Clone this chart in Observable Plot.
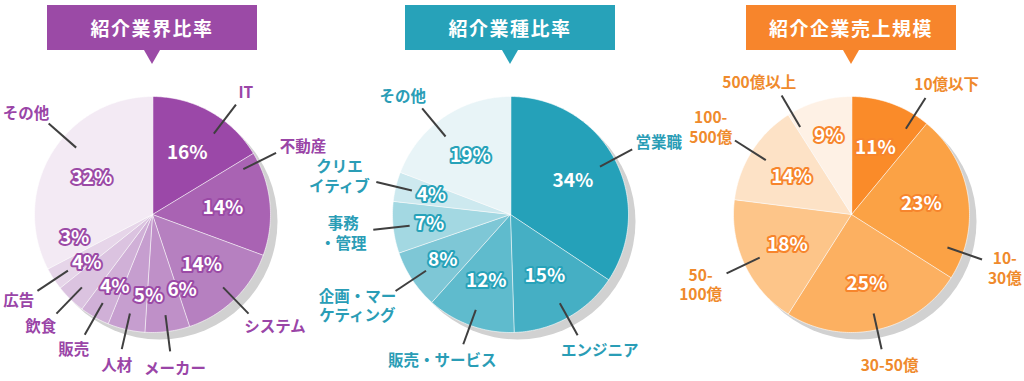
<!DOCTYPE html>
<html lang="ja">
<head>
<meta charset="utf-8">
<script src="https://cdn.jsdelivr.net/npm/d3@7"></script>
<script src="https://cdn.jsdelivr.net/npm/@observablehq/plot@0.6"></script>
<style>
html,body{margin:0;padding:0;background:#fff;}
#chart{position:relative;width:1024px;height:381px;overflow:hidden;font-family:"Noto Sans CJK JP","Noto Sans",sans-serif;}
#banners{position:relative;height:68px;}
.banner{position:absolute;top:5px;height:45px;width:210px;color:#fff;font-weight:700;font-size:19px;letter-spacing:1.5px;line-height:45px;text-align:center;}
.banner::after{content:"";position:absolute;left:50%;top:45px;margin-left:-8px;border-left:8px solid transparent;border-right:8px solid transparent;border-top:14px solid var(--bc);}
svg{display:block}
</style>
</head>
<body>
<div id="chart"><div id="banners"></div></div>
<script>
// ---- data ----
const titles = ["紹介業界比率", "紹介業種比率", "紹介企業売上規模"];

const industryLabels = ["IT", "不動産", "システム", "メーカー", "人材", "販売", "飲食", "広告", "その他"];
const industryValues = [16, 14, 14, 6, 5, 4, 4, 3, 32];

const jobLabels = ["営業職", "エンジニア", "販売・サービス", "企画・マー\nケティング", "事務\n・管理", "クリエ\nイティブ", "その他"];
const jobValues = [34, 15, 12, 8, 7, 4, 19];

const salesLabels = ["10億以下", "10-\n30億", "30-50億", "50-\n100億", "100-\n500億", "500億以上"];
const salesValues = [11, 23, 25, 18, 14, 9];

// ---- styles ----
const industryColors = ["#9b48a8", "#a963b3", "#b680c0", "#bf90c8", "#c69ecf", "#d0b0d7", "#dbc3e0", "#e6d5e9", "#f3eaf4"];
const jobColors = ["#25a1b9", "#45afc4", "#5fbbcd", "#7ec7d6", "#a3d8e2", "#cde9ef", "#e8f4f7"];
const salesColors = ["#fa8b29", "#fba245", "#fcb061", "#fdc589", "#fde2c6", "#fef1e5"];
const bannerColors = ["#9b4aa6", "#27a2b9", "#f7852c"];
const inkColors = ["#9a45a7", "#2a9db6", "#ef8a2c"];

const FONT = '"Noto Sans CJK JP", "Noto Sans", sans-serif';
const FS = 15.5, PFS = 19, GAP = 7;
const W = 1024, TOP = 68, H = 381 - TOP, R = 118;
const centerX = [152, 510, 851], centerY = 214 - TOP;
const deg = Math.PI / 180;

function textW(s, fs) {
  let w = 0;
  for (const ch of s) {
    if (ch === "-") w += 0.4;
    else if (ch === "%") w += 0.9;
    else if (/[\x20-\x7E]/.test(ch)) w += 0.6;
    else w += 1;
  }
  return w * fs;
}
function overlap(a, b, pad) {
  return Math.abs(a.x - b.x) * 2 < a.w + b.w + pad * 2 && Math.abs(a.y - b.y) * 2 < a.h + b.h + pad * 2;
}
function angDiff(a, b) {
  let d = b - a;
  while (d > Math.PI) d -= 2 * Math.PI;
  while (d <= -Math.PI) d += 2 * Math.PI;
  return d;
}

// banners
const bannerBox = document.getElementById("banners");
titles.forEach((t, i) => {
  const d = document.createElement("div");
  d.className = "banner";
  d.textContent = t;
  d.style.left = (centerX[i] - 105) + "px";
  d.style.background = bannerColors[i];
  d.style.setProperty("--bc", bannerColors[i]);
  bannerBox.appendChild(d);
});

const charts = [
  {labels: industryLabels, values: industryValues, colors: industryColors},
  {labels: jobLabels, values: jobValues, colors: jobColors},
  {labels: salesLabels, values: salesValues, colors: salesColors}
];

const slices = [], pcts = [], leaders = [], names = [], shadows = [];
const nameItems = [];

charts.forEach((c, ci) => {
  const cx = centerX[ci], cy = centerY;
  shadows.push({x: cx, y: cy});
  const arcs = d3.pie().sort(null).value(d => d)(c.values);
  const pItems = [];
  arcs.forEach((a, i) => {
    const key = ci + "-" + i, fill = c.colors[i];
    const n = Math.max(2, Math.ceil((a.endAngle - a.startAngle) / deg));
    slices.push({key, x: cx, y: cy, fill});
    for (let k = 0; k <= n; k++) {
      const t = a.startAngle + (a.endAngle - a.startAngle) * k / n;
      slices.push({key, x: cx + R * Math.sin(t), y: cy - R * Math.cos(t), fill});
    }
    const mid = (a.startAngle + a.endAngle) / 2;
    const text = c.values[i] + "%";
    pItems.push({t: mid, r: R * (c.values[i] < 10 ? 0.69 : 0.6), text, w: textW(text, PFS), h: PFS * 1.0, halo: bannerColors[ci]});

    let ang = mid;
    const d = ang > Math.PI ? ang - 2 * Math.PI : ang;
    if (Math.abs(d) < 45 * deg) ang = Math.sign(d) * (Math.abs(d) + 45 * deg) / 2;
    if (ang < 0) ang += 2 * Math.PI;
    const lo = a.startAngle + 2 * deg, hi = a.endAngle - 2 * deg;
    ang = Math.min(hi, Math.max(lo, ang));
    const lines = c.labels[i].split("\n");
    const w = d3.max(lines, l => textW(l, FS)), h = lines.length * FS * 1.2;
    nameItems.push({cx, cy, lo, hi, ang, w, h, text: c.labels[i], ink: inkColors[ci]});
  });

  // spread percentage labels so they do not collide
  const pos = (p) => ({x: cx + p.r * Math.sin(p.t), y: cy - p.r * Math.cos(p.t), w: p.w, h: p.h});
  for (let it = 0; it < 3000; it++) {
    let moved = false;
    for (let i = 0; i < pItems.length; i++) for (let j = i + 1; j < pItems.length; j++) {
      const A = pItems[i], B = pItems[j];
      if (overlap(pos(A), pos(B), 5)) {
        const s = angDiff(A.t, B.t) > 0 ? 1 : -1;
        A.t -= s * 0.2 * deg; B.t += s * 0.2 * deg;
        moved = true;
      }
    }
    if (!moved) break;
  }
  pItems.forEach(p => { const q = pos(p); pcts.push({x: q.x, y: q.y, text: p.text, halo: p.halo}); });
});

// name label placement: leader along an angle, label box outside the line end
function place(o) {
  const ux = Math.sin(o.ang), uy = -Math.cos(o.ang);
  const ex = o.cx + R * 1.17 * ux, ey = o.cy + R * 1.17 * uy;
  o.ux = ux; o.uy = uy; o.ex = ex; o.ey = ey;
  o.x = ex + GAP * ux + ux * o.w / 2;
  o.y = ey + GAP * uy + uy * o.h / 2;
}
function clipped(o) {
  return o.x - o.w / 2 < 2 || o.x + o.w / 2 > W - 2 || o.y - o.h / 2 < 1 || o.y + o.h / 2 > H - 1;
}
function turn(o, step) {
  const na = Math.min(o.hi, Math.max(o.lo, o.ang + step));
  if (na === o.ang) return false;
  o.ang = na; place(o); return true;
}
function towardVertical(o) {
  const up = Math.cos(o.ang) > 0, right = Math.sin(o.ang) > 0;
  return (up ? (right ? -1 : 1) : (right ? 1 : -1)) * deg;
}
nameItems.forEach(o => {
  place(o);
  for (let k = 0; k < 90 && clipped(o); k++) if (!turn(o, deg)) break;
});
nameItems.forEach(o => {
  for (let k = 0; k < 90; k++) {
    const hit = clipped(o) || nameItems.some(q => q !== o && overlap(o, q, 2));
    if (!hit || !turn(o, towardVertical(o))) break;
  }
});
nameItems.forEach(o => {
  leaders.push({x1: o.cx + R * 0.86 * o.ux, y1: o.cy + R * 0.86 * o.uy, x2: o.ex, y2: o.ey});
  names.push({x: o.x, y: o.y, text: o.text, ink: o.ink});
});

const plot = Plot.plot({
  width: W, height: H, margin: 0,
  x: {domain: [0, W], range: [0, W], axis: null},
  y: {domain: [0, H], range: [0, H], axis: null},
  color: {type: "identity"},
  marks: [
    Plot.dot(shadows, {x: "x", y: "y", r: R, fill: "#d1d1d1", dx: 7, dy: 7}),
    Plot.line(slices, {x: "x", y: "y", z: "key", fill: "fill", stroke: "#ffffff", strokeOpacity: 0.6, strokeWidth: 1, curve: "linear-closed"}),
    Plot.link(leaders, {x1: "x1", y1: "y1", x2: "x2", y2: "y2", stroke: "#3f3f3f", strokeWidth: 2}),
    Plot.text(pcts, {x: "x", y: "y", text: "text", fill: "#ffffff", stroke: "halo", strokeWidth: 4, fontSize: PFS, fontWeight: 700, fontFamily: FONT}),
    Plot.text(names, {x: "x", y: "y", text: "text", fill: "ink", fontSize: FS, fontWeight: 700, fontFamily: FONT, lineHeight: 1.25, lineAnchor: "middle"})
  ]
});
document.getElementById("chart").appendChild(plot);
</script>
</body>
</html>
